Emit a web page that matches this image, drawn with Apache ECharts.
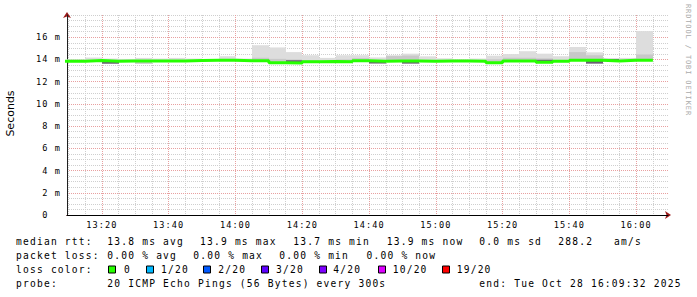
<!DOCTYPE html>
<html><head><meta charset="utf-8">
<script src="https://cdn.jsdelivr.net/npm/echarts@6/dist/echarts.min.js"></script>
<style>
html,body{margin:0;padding:0;background:#fff;}
#chart{width:697px;height:297px;}
#chart text[style*="Mono"]{letter-spacing:0.125em;}
</style></head><body><div id="chart"></div>
<script>
// ---- data ----
const windowStart = '13:09:32';
const windowEnd = '16:09:32';
const stepMinutes = 5; // probe every 300s
const bucketStart = ['13:05','13:10','13:15','13:20','13:25','13:30','13:35','13:40','13:45','13:50','13:55',
  '14:00','14:05','14:10','14:15','14:20','14:25','14:30','14:35','14:40','14:45','14:50','14:55',
  '15:00','15:05','15:10','15:15','15:20','15:25','15:30','15:35','15:40','15:45','15:50','15:55','16:00'];
// median rtt (ms)
const medianRtt = [13.84,13.84,13.90,13.84,13.86,13.86,13.86,13.86,13.90,13.92,13.93,
  13.88,13.88,13.71,13.68,13.80,13.82,13.80,13.89,13.83,13.87,13.87,13.84,
  13.86,13.86,13.84,13.71,13.87,13.87,13.75,13.84,13.92,13.92,13.86,13.92,13.92];
// smoke: lowest / highest ping (ms)
const smokeMin = [13.80,13.80,13.85,13.62,13.80,13.62,13.80,13.80,13.85,13.88,13.88,
  13.84,13.84,13.68,13.66,13.76,13.78,13.76,13.85,13.64,13.83,13.63,13.80,
  13.82,13.82,13.80,13.68,13.83,13.83,13.72,13.80,13.88,13.63,13.82,13.88,13.88];
const smokeMax = [14.02,14.02,14.17,14.08,14.05,14.14,14.08,14.14,14.08,13.98,14.29,
  14.08,15.28,15.08,14.66,14.38,14.14,14.38,14.38,14.18,14.38,14.52,14.28,
  14.10,14.02,14.08,14.34,14.48,14.74,14.52,14.29,15.12,14.64,14.04,14.14,16.55];
// smoke: top of the denser (medium grey) part (ms)
const smokeMid = [13.84,13.84,13.90,13.84,13.86,13.86,13.86,13.86,13.90,13.92,13.93,
  13.88,14.15,14.05,14.00,13.95,13.82,14.00,14.12,13.83,14.30,14.35,13.84,
  13.86,13.86,13.84,14.02,14.15,14.15,14.10,13.84,14.66,14.38,13.86,13.92,14.45];
// smoke: darkest core where it shows beside the median (ms)
const coreLo = [null,null,null,13.62,null,null,null,null,null,null,null,
  null,null,null,13.68,null,null,null,null,13.64,null,13.63,null,
  null,null,null,null,null,null,13.75,null,null,13.63,13.86,null,null];
const coreHi = [null,null,null,13.84,null,null,null,null,null,null,null,
  null,null,null,13.93,null,null,null,null,13.83,null,13.87,null,
  null,null,null,null,null,null,13.97,null,null,13.92,14.06,null,null];
const xTickLabels = ['13:20','13:40','14:00','14:20','14:40','15:00','15:20','15:40','16:00'];
const yTickValues = [0,2,4,6,8,10,12,14,16];
const yMax = 18;
const lossLabels = ['0','1/20','2/20','3/20','4/20','10/20','19/20'];
const lossColors = ['#26ff00','#00b8ff','#0059ff','#5e00ff','#7e00ff','#dd00ff','#ff0000'];
const rttStats = ['13.8 ms avg','13.9 ms max','13.7 ms min','13.9 ms now','0.0 ms sd','288.2','am/s'];
const lossStats = ['0.00 % avg','0.00 % max','0.00 % min','0.00 % now'];
const probeText = '20 ICMP Echo Pings (56 Bytes) every 300s';
const endText = 'end: Tue Oct 28 16:09:32 2025';

// ---- helpers ----
const T0 = 13 * 60;
function toMin(s){ const p = s.split(':').map(Number); return p[0]*60 + p[1] + (p[2]||0)/60 - T0; }
function fmt(m){ const t = Math.round(m + T0); return String(Math.floor(t/60)).padStart(2,'0') + ':' + String(t%60).padStart(2,'0'); }
const xMin = toMin(windowStart), xMax = toMin(windowEnd);
const starts = bucketStart.map(toMin);
const majorX = xTickLabels.map(toMin);
const minorX = [];
for (let m = Math.ceil(xMin/5)*5; m <= xMax; m += 5) if (majorX.indexOf(m) < 0) minorX.push(m);

const MONO = '"DejaVu Sans Mono", monospace';

function smoke(name, lo, hi, color, z){
  return {
    type:'custom', name, silent:true, clip:true, z,
    xAxisIndex:0, yAxisIndex:0,
    data: starts.map((t,i)=>[t, t+stepMinutes, lo[i], hi[i]]),
    encode:{x:[0,1], y:[2,3]},
    renderItem:(params, api)=>{
      const a = api.value(2), b = api.value(3);
      if (a == null || b == null || isNaN(a) || isNaN(b) || b <= a) return null;
      const p0 = api.coord([api.value(0), b]);
      const p1 = api.coord([api.value(1), a]);
      const x0 = Math.round(p0[0]), x1 = Math.round(p1[0]);
      return {type:'rect', shape:{x:x0, y:p0[1], width:x1-x0, height:p1[1]-p0[1]}, style:{fill:color}};
    }
  };
}

const medianData = starts.map((t,i)=>[t, medianRtt[i]]);
medianData.push([starts[starts.length-1] + stepMinutes, medianRtt[medianRtt.length-1]]);

// ---- legend graphics ----
const G = [];
function txt(x, y, s, size, extra){ G.push(Object.assign({type:'text', x, y, silent:true,
  style:{text:s, font:'normal ' + size + 'px ' + MONO, fill:'#000', align:'left', verticalAlign:'middle'}}, extra||{})); }
const rowY = [241.5, 255.5, 269.5, 283.5];
const rttX = [107.3, 200, 293.3, 386.7, 479.3, 558.3, 614];
const lossX = [107.3, 193.3, 279.3, 366.5];
txt(16, rowY[0], 'median rtt:', 9.6);
rttStats.forEach((s,i)=>txt(rttX[i], rowY[0], s, 9.6));
txt(16, rowY[1], 'packet loss:', 9.6);
lossStats.forEach((s,i)=>txt(lossX[i], rowY[1], s, 9.6));
txt(16, rowY[2], 'loss color:', 9.6);
const boxX = [108.5, 146.5, 203.5, 261.5, 319.5, 378.5, 442.5];
const boxLabelX = [124, 161, 218.3, 276, 333.3, 392.7, 456.7];
lossLabels.forEach((s,i)=>{
  G.push({type:'rect', silent:true, shape:{x:boxX[i], y:rowY[2]-3.5, width:7, height:7},
    style:{fill:lossColors[i], stroke:'#000', lineWidth:1}});
  txt(boxLabelX[i], rowY[2], s, 9.6);
});
txt(16, rowY[3], 'probe:', 9.6);
txt(107.3, rowY[3], probeText, 9.6);
txt(479.3, rowY[3], endText, 9.6);
G.push({type:'text', x:10.5, y:113.5, rotation:Math.PI/2, silent:true,
  style:{text:'Seconds', font:'normal 11px "DejaVu Sans", sans-serif', fill:'#000', align:'center', verticalAlign:'middle'}});
G.push({type:'text', x:688, y:60, rotation:-Math.PI/2, silent:true,
  style:{text:'RRDTOOL / TOBI OETIKER', font:'normal 7px ' + MONO, fill:'#aaaaaa', align:'center', verticalAlign:'middle'}});

const chart = echarts.init(document.getElementById('chart'), null, {renderer:'svg'});
chart.setOption({
  animation:false,
  backgroundColor:'#ffffff',
  grid:{left:67, top:15, width:601, height:200, containLabel:false, outerBoundsMode:'none'},
  xAxis:[
    {type:'value', min:xMin, max:xMax, position:'bottom', z:2,
      axisLine:{show:true, onZero:false, lineStyle:{color:'#000', width:1}},
      axisTick:{show:false, customValues:majorX},
      axisLabel:{customValues:majorX, formatter:fmt, margin:5, fontFamily:MONO, fontSize:8.6, color:'#000'},
      splitLine:{show:true, lineStyle:{color:'#e8a0a0', width:1, type:[1,1]}}},
    {type:'value', min:xMin, max:xMax, position:'bottom', z:1,
      axisLine:{show:true, onZero:false, symbol:['none','arrow'], symbolSize:[6,6], symbolOffset:[0,3], lineStyle:{color:'#9c1a1a', width:1}},
      axisTick:{show:false, customValues:minorX},
      axisLabel:{show:false, customValues:minorX},
      splitLine:{show:true, lineStyle:{color:'#cfcfcf', width:1, type:[1,1]}}}
  ],
  yAxis:[
    {type:'value', min:0, max:yMax, position:'left', z:2,
      axisLine:{show:true, onZero:false, lineStyle:{color:'#202020', width:1}},
      axisTick:{show:false, customValues:yTickValues},
      axisLabel:{customValues:yTickValues, margin:6, fontFamily:MONO, fontSize:8.6, color:'#000',
        formatter:v=> v === 0 ? '0\u00a0\u00a0' : v + ' m'},
      splitLine:{show:true, showMinLine:false, lineStyle:{color:'#e8a0a0', width:1, type:[1,1]}}},
    {type:'value', min:0, max:yMax, interval:0.5, position:'left', z:1,
      axisLine:{show:true, onZero:false, symbol:['none','arrow'], symbolSize:[6,6], symbolOffset:[0,3], lineStyle:{color:'#9c1a1a', width:1}},
      axisTick:{show:false}, axisLabel:{show:false},
      splitLine:{show:true, showMinLine:false, lineStyle:{color:'#cfcfcf', width:1, type:[1,1]}}}
  ],
  series:[
    smoke('smoke', smokeMin, smokeMax, '#dddddd', 3),
    smoke('smoke-mid', smokeMin, smokeMid, '#c8c8c8', 4),
    smoke('smoke-core', coreLo, coreHi, '#6a5f74', 5),
    {type:'line', name:'median rtt', data:medianData, step:'end', symbol:'none', z:6,
      xAxisIndex:0, yAxisIndex:0, silent:true,
      lineStyle:{color:lossColors[0], width:3}}
  ],
  graphic:G
});
</script></body></html>
